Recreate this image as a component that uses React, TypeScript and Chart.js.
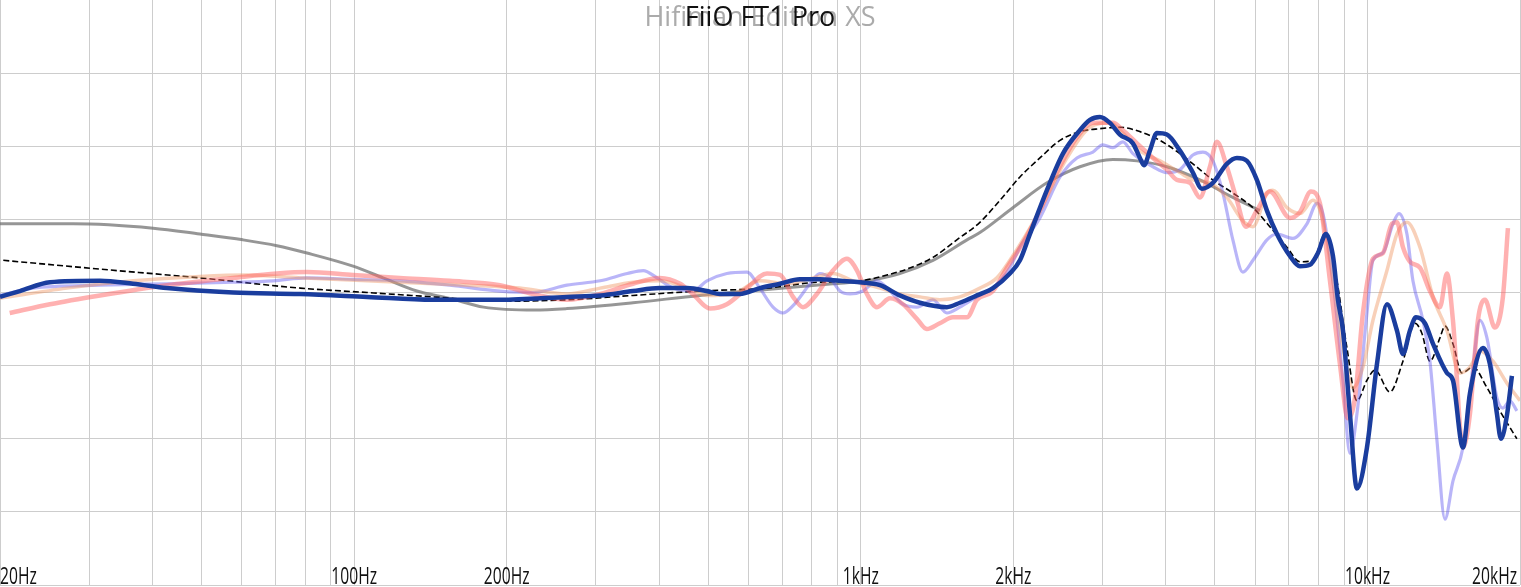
import React, { useEffect, useRef } from "react";
import Chart from "chart.js/auto";

// [frequency Hz, level dB]
type Pt = [number, number];

const FT1_PRO: Pt[] = [
  [20, 64.7], [21.9, 65.1], [25.1, 65.7], [31.5, 65.8], [36.6, 65.6], [42.7, 65.3], [57.7, 65.0],
  [78.2, 64.9], [106, 64.7], [143, 64.5], [194, 64.5], [263, 64.7], [306, 64.8], [355, 65.1],
  [401, 65.3], [454, 65.3], [497, 65.1], [527, 64.9], [577, 64.9], [632, 65.3], [693, 65.6],
  [758, 65.9], [830, 65.9], [910, 65.8], [996, 65.7], [1091, 65.5], [1194, 64.8], [1308, 64.3],
  [1479, 64.0], [1569, 64.3], [1695, 64.8], [1823, 65.3], [1969, 66.3], [2061, 67.2], [2157, 69.0],
  [2330, 72.0], [2506, 74.5], [2707, 76.1], [2833, 76.8], [2964, 77.0], [3102, 76.6], [3246, 75.8],
  [3444, 75.2], [3555, 74.2], [3621, 73.7], [3720, 74.7], [3841, 75.9], [4019, 75.8], [4264, 74.7],
  [4523, 73.2], [4712, 72.1], [4953, 72.5], [5278, 73.8], [5524, 74.2], [5781, 74.0], [6049, 72.7],
  [6332, 70.6], [6627, 69.0], [7030, 67.5], [7357, 66.8], [7700, 66.9], [7984, 67.7], [8280, 69.0],
  [8548, 67.5], [8744, 64.5], [8946, 62.4], [9234, 56.7], [9533, 51.6], [9976, 54.4], [10440, 60.1],
  [10925, 64.2], [11433, 62.4], [11749, 60.8], [12129, 62.4], [12464, 63.3], [12984, 62.9],
  [13465, 61.5], [14349, 59.5], [14746, 59.0], [15432, 54.4], [15930, 58.1], [16898, 61.2],
  [17446, 60.1], [18010, 56.7], [18340, 55.0], [18847, 56.6], [19278, 59.3],
];

const FT1_PRO_R: Pt[] = [
  [20.9, 63.6], [25.1, 64.2], [31.5, 64.8], [42.7, 65.5], [57.7, 66.0], [70.4, 66.3], [80.7, 66.4],
  [99.5, 66.2], [123, 66.0], [154.5, 65.8], [194, 65.5], [225, 64.9], [263, 64.5], [306, 64.9],
  [355, 65.6], [401, 66.0], [440, 65.6], [466, 64.9], [504, 63.9], [544, 64.2], [596, 65.3],
  [653, 66.3], [693, 66.2], [735, 64.7], [769, 64.0], [819, 64.9], [881, 66.5], [939, 67.3],
  [983, 66.5], [1028, 64.9], [1076, 64.0], [1142, 64.6], [1211, 64.2], [1290, 63.2], [1350, 62.5],
  [1432, 62.9], [1520, 63.3], [1620, 63.3], [1695, 64.5], [1823, 65.1], [1943, 66.7], [2090, 68.4],
  [2257, 70.6], [2438, 73.2], [2670, 75.6], [2871, 76.6], [3144, 76.6], [3290, 76.1], [3508, 75.2],
  [3773, 74.2], [4019, 73.4], [4206, 72.7], [4462, 72.5], [4670, 71.5], [4887, 73.6], [5044, 75.3],
  [5278, 73.6], [5524, 71.3], [5755, 69.5], [6049, 70.6], [6417, 71.9], [7030, 70.1], [7357, 70.5],
  [7734, 71.9], [8056, 71.1], [8432, 65.8], [8824, 60.1], [9150, 56.4], [9447, 57.8], [9796, 63.6],
  [10252, 67.3], [10727, 67.7], [11176, 69.7], [11433, 69.8], [11749, 68.1], [12129, 67.1],
  [12692, 66.7], [13282, 65.1], [13900, 64.0], [14349, 66.3], [14746, 63.1], [15432, 54.4],
  [15930, 56.7], [16519, 63.1], [17054, 64.5], [17847, 62.6], [18506, 64.7], [18932, 69.4],
];

const FT1_PRO_L: Pt[] = [
  [20, 64.8], [23.2, 65.3], [31.5, 65.5], [42.7, 65.6], [57.7, 65.7], [69.2, 65.8], [80.7, 66.0],
  [99.5, 65.9], [123, 65.8], [154.5, 65.5], [194, 65.1], [225, 65.0], [263, 65.5], [306, 65.8],
  [346, 66.3], [372, 66.5], [396, 66.0], [426, 65.3], [466, 65.1], [497, 65.8], [544, 66.3],
  [596, 66.4], [632, 65.3], [671, 64.0], [702, 63.6], [735, 64.1], [794, 65.6], [830, 66.3],
  [869, 66.0], [910, 65.1], [952, 64.9], [1010, 65.1], [1076, 65.8], [1142, 65.1], [1211, 64.2],
  [1290, 64.0], [1388, 64.5], [1479, 63.6], [1569, 64.0], [1695, 64.7], [1823, 65.3], [1969, 66.7],
  [2061, 68.1], [2257, 70.1], [2472, 72.9], [2670, 74.2], [2871, 74.6], [3004, 75.1], [3144, 74.9],
  [3290, 75.3], [3444, 74.5], [3773, 73.6], [4019, 73.2], [4264, 73.4], [4523, 74.4], [4734, 74.6],
  [4953, 74.0], [5184, 71.8], [5424, 68.6], [5676, 66.4], [5942, 67.2], [6332, 68.6], [6627, 69.0],
  [7126, 68.7], [7596, 69.7], [7948, 71.1], [8168, 70.4], [8548, 65.8], [8946, 59.0], [9234, 54.0],
  [9533, 56.7], [9976, 63.6], [10252, 67.2], [10727, 67.7], [11227, 69.7], [11535, 70.4],
  [11964, 69.0], [12294, 65.8], [12866, 63.1], [13282, 60.3], [13711, 54.9], [14220, 49.5],
  [14746, 52.1], [15432, 54.4], [16148, 59.9], [16668, 63.1], [17210, 61.9], [18010, 57.8],
  [18506, 57.1], [19104, 57.6], [19718, 56.9],
];

const FT1_PRO_ALT: Pt[] = [
  [20, 64.6], [27.1, 65.3], [36.6, 65.8], [49.6, 66.1], [61.4, 66.2], [78.2, 66.0], [106, 65.8],
  [167, 65.5], [212, 65.3], [263, 64.9], [306, 65.3], [355, 65.7], [401, 65.8], [454, 65.3],
  [497, 64.8], [559, 64.9], [632, 65.8], [715, 65.6], [804, 66.0], [881, 66.3], [965, 65.8],
  [1091, 65.3], [1194, 64.9], [1308, 64.7], [1432, 64.5], [1569, 64.7], [1718, 65.3], [1856, 66.0],
  [1969, 67.2], [2257, 70.6], [2552, 74.2], [2833, 76.3], [3102, 76.6], [3290, 75.9], [3555, 74.7],
  [3894, 74.0], [4264, 73.2], [4523, 72.7], [4887, 72.5], [5278, 71.5], [5676, 69.9], [5942, 69.5],
  [6332, 71.8], [6508, 72.0], [6935, 70.8], [7357, 70.4], [7806, 71.3], [8168, 69.9], [8548, 65.8],
  [8946, 61.2], [9362, 58.5], [9796, 59.9], [10252, 63.1], [10925, 66.5], [11433, 69.0],
  [11964, 69.8], [12692, 68.1], [13465, 64.7], [14349, 62.4], [15224, 59.5], [15930, 59.9],
  [16668, 61.0], [17686, 60.3], [18847, 58.8], [20000, 57.6],
];

const EDITION_XS: Pt[] = [
  [20, 69.7], [27.9, 69.7], [40.1, 69.4], [49.6, 69.0], [60.3, 68.6], [70.4, 68.2], [80.7, 67.7],
  [99.5, 66.8], [114, 66.0], [133, 65.1], [154.5, 64.6], [180, 64.0], [227, 63.8],
  [263, 63.9], [355, 64.3], [481, 64.8], [653, 65.2], [881, 65.6], [1028, 65.8], [1194, 66.3],
  [1388, 67.2], [1620, 68.6], [1718, 69.1], [1996, 70.8], [2330, 72.5], [2707, 73.6], [3144, 74.1],
  [3508, 74.0], [4019, 73.6], [4670, 72.7], [5424, 71.5], [6134, 70.6],
];

const TARGET: Pt[] = [
  [20.3, 67.2], [31.5, 66.6], [49.6, 66.0], [78.2, 65.3], [106, 65.0], [143, 64.7], [194, 64.4],
  [263, 64.5], [355, 64.8], [481, 65.1], [653, 65.3], [819, 65.7], [996, 65.8], [1126, 66.2],
  [1233, 66.6], [1388, 67.4], [1547, 68.6], [1718, 69.8], [1882, 71.3], [2061, 72.9], [2257, 74.2],
  [2472, 75.4], [2707, 76.0], [2964, 76.2], [3246, 76.3], [3555, 76.0], [3894, 75.4], [4264, 74.5],
  [4523, 73.8], [4953, 72.7], [5424, 71.8], [5942, 70.8], [6417, 69.5], [6935, 68.1], [7357, 67.1],
  [7806, 67.2], [8280, 69.1], [8704, 65.8], [9109, 61.2], [9533, 57.6], [9976, 59.0], [10344, 59.7],
  [11074, 58.2], [11749, 60.3], [12408, 62.9], [12808, 62.2], [13282, 60.3], [13900, 61.9],
  [14220, 62.7], [14746, 61.5], [15362, 59.5], [16148, 59.9], [17210, 58.5], [18257, 56.9],
  [19718, 55.0],
];

const GRID_HZ = [
  20, 30, 40, 50, 60, 70, 80, 90, 100, 200, 300, 400, 500, 600, 700, 800, 900,
  1000, 2000, 3000, 4000, 5000, 6000, 7000, 8000, 9000, 10000, 20000,
];
const LABEL_HZ = [20, 100, 200, 1000, 2000, 10000, 20000];
const LABEL_TEXT = ["20Hz", "100Hz", "200Hz", "1kHz", "2kHz", "10kHz", "20kHz"];
const TITLE_MAIN = "FiiO FT1 Pro";
const TITLE_BEHIND = "Hifiman Edition XS";

const toXY = (pts: Pt[]) => pts.map(([x, y]) => ({ x, y }));

// titles and in-plot frequency labels
const overlayText = {
  id: "overlayText",
  afterDraw(chart: any) {
    const { ctx, chartArea, scales } = chart;
    const cx = (chartArea.left + chartArea.right) / 2;
    ctx.save();
    ctx.textAlign = "center";
    ctx.textBaseline = "alphabetic";
    ctx.font = "27px 'Open Sans', sans-serif";
    ctx.fillStyle = "#ababab";
    ctx.fillText(TITLE_BEHIND, cx, 26);
    ctx.fillStyle = "#111";
    ctx.fillText(TITLE_MAIN, cx, 26);

    const squeeze = 0.68;
    ctx.font = "23px 'Open Sans', sans-serif";
    ctx.textAlign = "left";
    LABEL_HZ.forEach((hz, i) => {
      const px = scales.x.getPixelForValue(hz);
      const w = ctx.measureText(LABEL_TEXT[i]).width * squeeze;
      const left = Math.max(chartArea.left, Math.min(chartArea.right - w - 3, px - w / 2));
      ctx.save();
      ctx.translate(left, chartArea.bottom - 1);
      ctx.scale(squeeze, 1);
      ctx.fillText(LABEL_TEXT[i], 0, 0);
      ctx.restore();
    });
    ctx.restore();
  },
};

export default function App() {
  const canvasRef = useRef<HTMLCanvasElement>(null);

  useEffect(() => {
    if (!canvasRef.current) return;
    const chart = new Chart(canvasRef.current, {
      type: "line",
      data: {
        datasets: [
          { label: TITLE_MAIN, data: toXY(FT1_PRO), borderColor: "#1a3d9e", borderWidth: 4.5, order: 0 },
          { label: "R", data: toXY(FT1_PRO_R), borderColor: "rgba(255,100,100,0.5)", borderWidth: 4.5, order: 1 },
          { label: "Alt", data: toXY(FT1_PRO_ALT), borderColor: "rgba(240,150,100,0.45)", borderWidth: 3.5, order: 2 },
          { label: "L", data: toXY(FT1_PRO_L), borderColor: "rgba(100,90,240,0.45)", borderWidth: 3.2, order: 3 },
          { label: "Target", data: toXY(TARGET), borderColor: "#000", borderWidth: 1.6, borderDash: [6, 3], order: 4 },
          { label: TITLE_BEHIND, data: toXY(EDITION_XS), borderColor: "rgba(110,110,110,0.72)", borderWidth: 3, order: 5 },
        ],
      },
      options: {
        responsive: true,
        maintainAspectRatio: false,
        animation: false,
        layout: { padding: { left: 0, right: 1, top: 0, bottom: 2 } },
        elements: {
          point: { radius: 0 },
          line: { cubicInterpolationMode: "monotone", fill: false },
        },
        plugins: {
          legend: { display: false },
          tooltip: { enabled: false },
          title: { display: false },
        },
        scales: {
          x: {
            type: "logarithmic",
            min: 20,
            max: 20000,
            border: { display: false },
            grid: { color: "#cdcdcd", lineWidth: 1, drawTicks: false },
            ticks: { display: false },
            afterBuildTicks: (scale: any) => {
              scale.ticks = GRID_HZ.map((v) => ({ value: v }));
            },
          },
          y: {
            min: 45,
            max: 85,
            border: { display: false },
            grid: {
              color: (c: any) => (c.tick && c.tick.value === 85 ? "rgba(0,0,0,0)" : "#cdcdcd"),
              lineWidth: 1,
              drawTicks: false,
            },
            ticks: { display: false, stepSize: 5 },
          },
        },
      },
      plugins: [overlayText],
    });
    return () => chart.destroy();
  }, []);

  return (
    <div style={{ position: "fixed", left: 0, top: 0, width: 1521, height: 587, background: "#fff" }}>
      <canvas ref={canvasRef}></canvas>
    </div>
  );
}
